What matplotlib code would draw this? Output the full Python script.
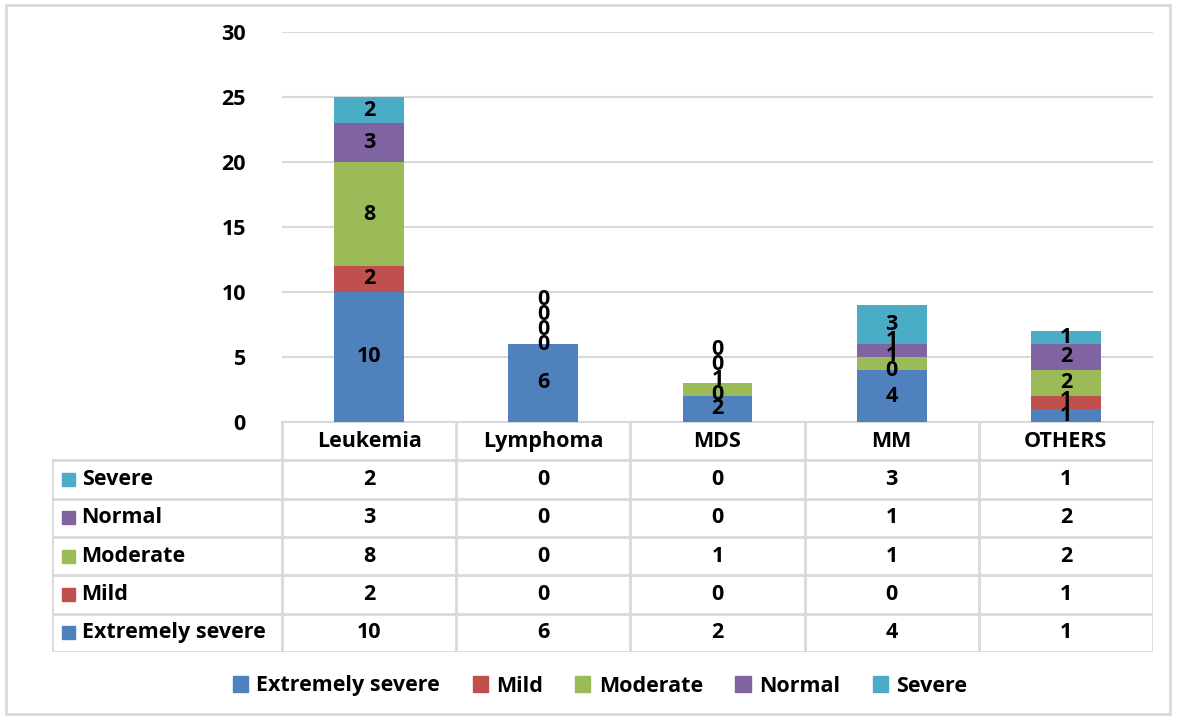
import matplotlib.pyplot as plt
import matplotlib.patches as mpatches
import numpy as np

# Daten
categories = ['Leukemia', 'Lymphoma', 'MDS', 'MM', 'OTHERS']
extremely_severe = [10, 6, 2, 4, 1]
mild = [2, 0, 0, 0, 1]
moderate = [8, 0, 1, 1, 2]
normal = [3, 0, 0, 1, 2]
severe = [2, 0, 0, 3, 1]

series_names = ['Extremely severe', 'Mild', 'Moderate', 'Normal', 'Severe']
series_values = [extremely_severe, mild, moderate, normal, severe]
colors = ['#4F81BD', '#C0504D', '#9BBB59', '#8064A2', '#4BACC6']
grid_col = '#D9D9D9'

plt.rcParams['font.family'] = ['Open Sans', 'DejaVu Sans']
plt.rcParams['font.weight'] = 'bold'
FS = 15.5

W, H = 1177, 719
fig = plt.figure(figsize=(W / 100, H / 100), dpi=100)

# Aeusserer Rahmen
fig.patches.append(mpatches.Rectangle((6 / W, 5 / H), (1170 - 6) / W, (714 - 5) / H,
                                      transform=fig.transFigure, fill=False,
                                      edgecolor=grid_col, linewidth=2))

# Diagrammbereich
x_left, x_right = 282, 1153
y_top, y_zero = 32, 422
ax = fig.add_axes([x_left / W, 1 - y_zero / H, (x_right - x_left) / W, (y_zero - y_top) / H])
x = np.arange(len(categories))
bottom = np.zeros(len(categories))
for name, vals, col in zip(series_names, series_values, colors):
    ax.bar(x, vals, width=0.4, bottom=bottom, color=col, label=name, zorder=3)
    bottom += np.array(vals)

# Datenbeschriftungen (einfache Kollisionsvermeidung wie in Excel)
for i in range(len(categories)):
    base = 0.0
    prev_y = -10
    for vals in series_values:
        v = vals[i]
        yc = base + v / 2
        if yc < prev_y + 1.15:
            yc = prev_y + 1.15
        ax.text(x[i], yc, str(v), ha='center', va='center', fontsize=FS,
                fontweight='bold', color='black', zorder=4)
        prev_y = yc
        base += v

ax.set_xlim(-0.5, len(categories) - 0.5)
ax.set_ylim(0, 30)
ax.set_yticks(range(0, 31, 5))
ax.set_xticks([])
ax.tick_params(axis='y', length=0, pad=26, labelsize=FS)
for lbl in ax.get_yticklabels():
    lbl.set_fontweight('bold')
ax.grid(axis='y', color=grid_col, linewidth=1.5, zorder=0)
for s in ['top', 'right', 'left']:
    ax.spines[s].set_visible(False)
ax.spines['bottom'].set_color(grid_col)
ax.spines['bottom'].set_linewidth(1.5)

# Datentabelle
t_left, t_bottom = 52, 652
cat_w = (x_right - x_left) / len(categories)
label_w = (x_left - t_left) / cat_w
tax = fig.add_axes([t_left / W, 1 - t_bottom / H, (x_right - t_left) / W, (t_bottom - y_zero) / H])
tax.set_xlim(-0.5 - label_w, len(categories) - 0.5)
tax.set_ylim(0, 6)
tax.axis('off')
lk = dict(color=grid_col, linewidth=2)
for yy in range(0, 6):
    tax.plot([-0.5 - label_w, len(categories) - 0.5], [yy, yy], **lk)
tax.plot([-0.5 - label_w, -0.5 - label_w], [0, 5], **lk)
for j in range(len(categories) + 1):
    tax.plot([j - 0.5, j - 0.5], [0, 6], **lk)
for j, c in enumerate(categories):
    tax.text(j, 5.5, c, ha='center', va='center', fontsize=FS, fontweight='bold')
row_order = list(range(len(series_names)))[::-1]
for r, si in enumerate(row_order):
    yy = 4.5 - r
    tax.add_patch(mpatches.Rectangle((-0.5 - label_w + 0.06, yy - 0.17), 0.07, 0.34,
                                     color=colors[si], transform=tax.transData))
    tax.text(-0.5 - label_w + 0.17, yy, series_names[si], ha='left', va='center',
             fontsize=FS, fontweight='bold')
    for j in range(len(categories)):
        tax.text(j, yy, str(series_values[si][j]), ha='center', va='center',
                 fontsize=FS, fontweight='bold')

# Legende
handles = [mpatches.Patch(color=c, label=n) for n, c in zip(series_names, colors)]
fig.legend(handles=handles, loc='center', bbox_to_anchor=(600 / W, 1 - 686 / H),
           ncol=5, frameon=False, prop={'size': FS, 'weight': 'bold'},
           handlelength=0.7, handleheight=0.7, handletextpad=0.4, columnspacing=1.5)

plt.savefig('out.png', dpi=100)
plt.close()
